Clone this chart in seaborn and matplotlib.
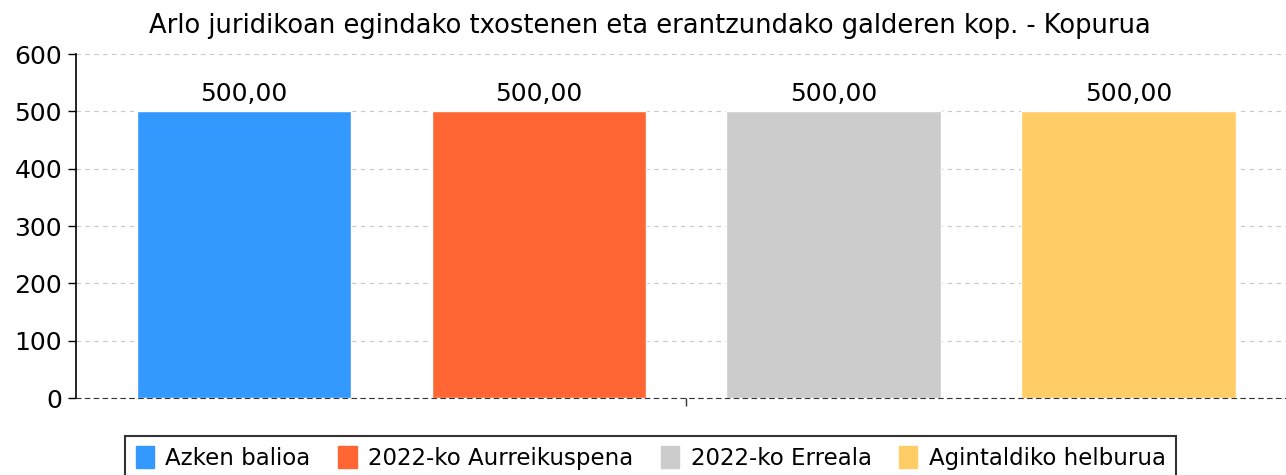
import matplotlib
matplotlib.use("Agg")
import matplotlib.pyplot as plt
import seaborn as sns
import pandas as pd

# data
series = ["Azken balioa", "2022-ko Aurreikuspena", "2022-ko Erreala", "Agintaldiko helburua"]
values = [500, 500, 500, 500]
colors = ["#3399FF", "#FF6633", "#CCCCCC", "#FFCC66"]
title = "Arlo juridikoan egindako txostenen eta erantzundako galderen kop. - Kopurua"

df = pd.DataFrame({"serie": series, "balioa": values})

sns.set_style("white")
plt.rcParams["font.family"] = ["DejaVu Sans"]
plt.rcParams["text.color"] = "black"
plt.rcParams["ytick.color"] = "black"
plt.rcParams["xtick.color"] = "black"

fig = plt.figure(figsize=(12.86, 4.75), dpi=100)
ax = fig.add_axes([0.0591, 0.162, 0.949, 0.724])

sns.barplot(data=df, x="serie", y="balioa", hue="serie", palette=colors,
            dodge=False, width=0.727, legend=False, ax=ax, saturation=1)

for c in ax.containers:
    ax.bar_label(c, labels=[f"{v:.2f}".replace(".", ",") for v in c.datavalues],
                 padding=4, fontsize=18, color="black")

ax.set_ylim(0, 600)
ax.set_yticks(range(0, 601, 100))
ax.set_xlim(-0.57, 3.57)
ax.set_xticks([1.5])
ax.set_xticklabels([""])
ax.set_xlabel("")
ax.set_ylabel("")
ax.tick_params(axis="y", labelsize=18, length=6, width=1, color="black", left=True,
               labelcolor="black", pad=4)
ax.tick_params(axis="x", length=6, width=1, color="#333333", bottom=True)
ax.yaxis.grid(True, linestyle=(0, (4, 4)), color="#C8C8C8", linewidth=0.8)
ax.set_axisbelow(True)

for s in ["top", "right"]:
    ax.spines[s].set_visible(False)
ax.spines["left"].set_color("black")
ax.spines["left"].set_linewidth(1.2)
ax.spines["bottom"].set_color("#333333")
ax.spines["bottom"].set_linestyle((0, (4, 4)))

# title is centred on the whole figure, not on the axes
fig.text(0.5054, 0.9305, title, fontsize=18.5, ha="center", va="baseline", color="black")

handles = [plt.Rectangle((0, 0), 1, 1, color=c) for c in colors]
leg = fig.legend(handles, series, loc="lower center", bbox_to_anchor=(0.506, -0.025),
                 ncol=4, fontsize=16.5, frameon=True, fancybox=False,
                 handlelength=0.8, handleheight=1.1, handletextpad=0.5,
                 columnspacing=1.2, borderpad=0.45, borderaxespad=0.3)
leg.get_frame().set_edgecolor("black")
leg.get_frame().set_linewidth(1.5)
for t in leg.get_texts():
    t.set_color("black")

fig.savefig("out.png", dpi=100)
